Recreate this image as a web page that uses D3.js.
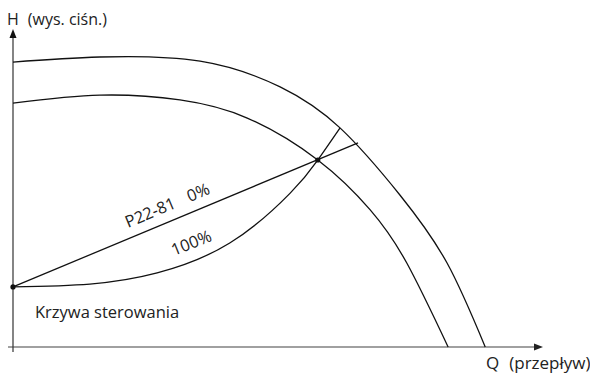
<!DOCTYPE html>
<html>
<head>
<meta charset="utf-8">
<script src="https://cdn.jsdelivr.net/npm/d3@7"></script>
<style>
  body { margin: 0; background: #fff; }
  text { font-family: "Open Sans", sans-serif; fill: #222; }
</style>
</head>
<body>
<div id="area"></div>
<script>
// pump curves (Q, H), Q and H in % of axis length
var outerQ = [0, 16.4, 35.3, 50.4, 61.7, 73, 81.9, 89.1];
var outerH = [89.6, 91.2, 89.9, 81.8, 68.9, 47.8, 26.4, 0];
var innerQ = [0, 16.4, 31.5, 44.2, 57.5, 67.4, 74.3, 82.1];
var innerH = [76.7, 79.2, 77.7, 72, 58.8, 43.1, 26.4, 0];
// control curve at 100%
var sysQ = [0, 14.5, 27.2, 40.9, 52.3, 57.5, 61.7];
var sysH = [18.9, 19.8, 23.3, 32.7, 48.4, 58.8, 68.9];
// control line at 0% (straight)
var linQ = [0, 65.1];
var linH = [18.9, 64.2];
// marked points
var dotQ = [0, 57.5];
var dotH = [18.9, 58.8];

var width = 590, height = 376;

var svg = d3.select('#area').append('svg')
    .attr('width', width)
    .attr('height', height);

var x = d3.scaleLinear().domain([0, 100]).range([13, 543]);
var y = d3.scaleLinear().domain([0, 100]).range([347, 29]);

function pts(qs, hs) {
  return qs.map(function(q, i) { return [q, hs[i]]; });
}

var line = d3.line()
    .x(function(d) { return x(d[0]); })
    .y(function(d) { return y(d[1]); })
    .curve(d3.curveNatural);

// axes
svg.append('line')
    .attr('x1', x(0) - 5).attr('x2', x(100) - 6)
    .attr('y1', y(0)).attr('y2', y(0))
    .attr('stroke', '#808080').attr('stroke-width', 1.5);
svg.append('path')
    .attr('d', 'M' + x(100) + ',' + y(0) + 'l-9,-3.5v7z')
    .attr('fill', '#222');

svg.append('line')
    .attr('x1', x(0)).attr('x2', x(0))
    .attr('y1', y(0) + 5).attr('y2', y(100) + 6)
    .attr('stroke', '#333').attr('stroke-width', 1.2);
svg.append('path')
    .attr('d', 'M' + x(0) + ',' + y(100) + 'l-3.5,9h7z')
    .attr('fill', '#111');

var curves = [pts(outerQ, outerH), pts(innerQ, innerH), pts(sysQ, sysH), pts(linQ, linH)];
svg.selectAll('.curve')
    .data(curves)
  .enter().append('path')
    .attr('class', 'curve')
    .attr('d', line)
    .attr('fill', 'none')
    .attr('stroke', '#111')
    .attr('stroke-width', 1.3);

svg.selectAll('.dot')
    .data(pts(dotQ, dotH))
  .enter().append('circle')
    .attr('class', 'dot')
    .attr('cx', function(d) { return x(d[0]); })
    .attr('cy', function(d) { return y(d[1]); })
    .attr('r', 2.6)
    .attr('fill', '#111');

// labels
var ang = Math.atan2(y(linH[1]) - y(linH[0]), x(linQ[1]) - x(linQ[0])) * 180 / Math.PI;

svg.append('text')
    .attr('transform', 'translate(128,228) rotate(' + ang + ')')
    .attr('font-size', 16.5)
    .text('P22-81')
  .append('tspan')
    .attr('dx', 14)
    .text('0%');

svg.append('text')
    .attr('transform', 'translate(174,256) rotate(' + (ang + 1) + ')')
    .attr('font-size', 16.5)
    .text('100%');

svg.append('text')
    .attr('x', 35).attr('y', 318)
    .attr('font-size', 16.5)
    .text('Krzywa sterowania');

svg.append('text')
    .attr('x', 7).attr('y', 25)
    .attr('font-size', 16)
    .text('H')
  .append('tspan')
    .attr('dx', 9)
    .text('(wys. ciśn.)');

svg.append('text')
    .attr('x', 486).attr('y', 369)
    .attr('font-size', 17)
    .text('Q')
  .append('tspan')
    .attr('dx', 10)
    .text('(przepływ)');
</script>
</body>
</html>
